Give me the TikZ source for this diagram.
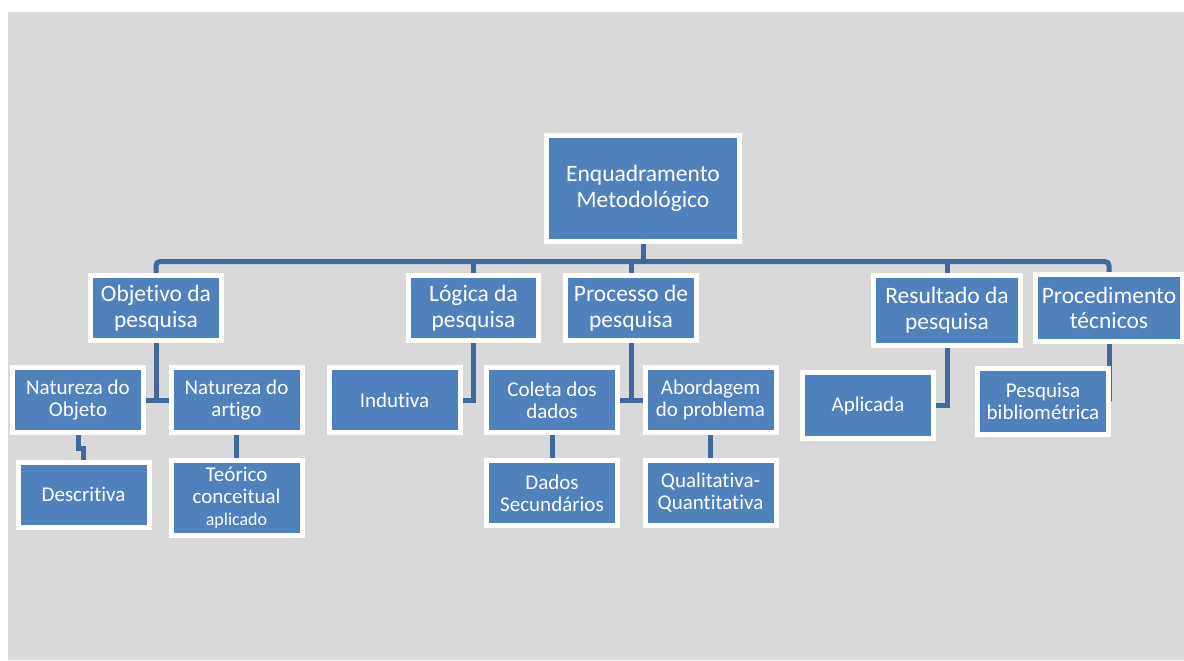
\documentclass[tikz,border=0pt]{standalone}
\usepackage{fontspec}
\setmainfont{Carlito}[Ligatures={NoCommon,NoContextual}]
\definecolor{boxblue}{HTML}{4F81BD}
\definecolor{connblue}{HTML}{41689A}
\definecolor{bggray}{HTML}{D9D9D9}
\pgfdeclarelayer{bg}
\pgfdeclarelayer{lines}
\pgfsetlayers{bg,lines,main}
\tikzset{
  box/.style={fill=boxblue, draw=white, line width=2.5pt, text=white, align=center, inner sep=0pt},
  bigbox/.style={box, font=\fontsize{11.75pt}{12.9pt}\selectfont},
  smallbox/.style={box, font=\fontsize{10.5pt}{11pt}\selectfont, minimum width=65.5pt, minimum height=32.5pt},
  conn/.style={draw=connblue, line width=2.5pt},
}
\begin{document}
\begin{tikzpicture}[x=0.5pt,y=-0.5pt]
\useasboundingbox (0,0) rectangle (1184,660);
\begin{pgfonlayer}{bg}
\fill[bggray] (8,12) rectangle (1184,660);
\end{pgfonlayer}

% root
\node[bigbox, minimum width=96.5pt, minimum height=53pt] (root) at (643,188.5) {Enquadramento\\Metodológico};

% level 1
\node[bigbox, minimum width=65.5pt, minimum height=32.5pt] (obj) at (156,308) {Objetivo da\\pesquisa};
\node[bigbox, minimum width=65pt, minimum height=32.5pt] (log) at (473.5,308) {Lógica da\\pesquisa};
\node[bigbox, minimum width=65.5pt, minimum height=32.5pt] (proc) at (631,308) {Processo de\\pesquisa};
\node[bigbox, minimum width=73.5pt, minimum height=35pt] (res) at (947,310.5) {Resultado da\\pesquisa};
\node[bigbox, minimum width=73.5pt, minimum height=33.5pt] (procd) at (1109,308) {Procedimento\\técnicos};

% level 2
\node[smallbox] (natobj) at (78,400) {Natureza do\\Objeto};
\node[smallbox] (natart) at (236.5,400) {Natureza do\\artigo};
\node[smallbox] (indut) at (394.5,400) {Indutiva};
\node[smallbox] (coleta) at (552,400) {Coleta dos\\dados};
\node[smallbox] (abord) at (710.5,400) {Abordagem\\do problema};
\node[smallbox, minimum height=33pt] (aplic) at (868,405.5) {Aplicada};
\node[smallbox, minimum height=33pt] (pesq) at (1043,401.5) {Pesquisa\\bibliométrica};

% level 3
\node[smallbox] (descr) at (83.5,494.5) {Descritiva};
\node[smallbox, minimum height=37.5pt] (teor) at (236.5,498) {Teórico\\conceitual\\{\fontsize{9pt}{10pt}\selectfont aplicado}};
\node[smallbox] (dados) at (552,493) {Dados\\Secundários};
\node[smallbox] (qual) at (710.5,493) {Qualitativa-\\Quantitativa};

\begin{pgfonlayer}{lines}
\coordinate (bus) at (0,261.5);
\draw[conn, rounded corners=2pt] (obj.north) -- (obj.north |- bus) -- (procd.north |- bus) -- (procd.north);
\draw[conn] (root.south) -- (root.south |- bus);
\draw[conn] (log.north) -- (log.north |- bus);
\draw[conn] (proc.north) -- (proc.north |- bus);
\draw[conn] (res.north) -- (res.north |- bus);

\draw[conn] (obj.south) |- (natobj.east);
\draw[conn] (obj.south) |- (natart.west);
\draw[conn] (log.south) |- (indut.east);
\draw[conn] (proc.south) |- (coleta.east);
\draw[conn] (proc.south) |- (abord.west);
\draw[conn] (res.south) |- (aplic.east);
\draw[conn] (procd.south) |- (pesq.east);

\draw[conn] (natobj.south) -- ++(0,13) -| (descr.north);
\draw[conn] (natart.south) -- (teor.north);
\draw[conn] (coleta.south) -- (dados.north);
\draw[conn] (abord.south) -- (qual.north);
\end{pgfonlayer}
\end{tikzpicture}
\end{document}
